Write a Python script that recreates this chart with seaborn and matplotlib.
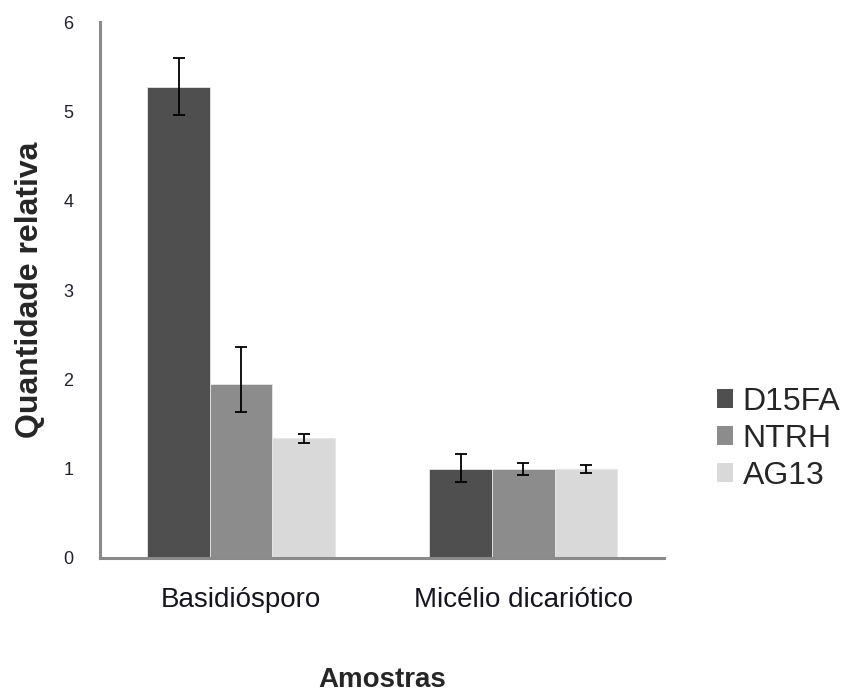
import matplotlib
matplotlib.use("Agg")
import matplotlib.pyplot as plt
from matplotlib.patches import Patch
import numpy as np
import pandas as pd
import seaborn as sns

# Expression data
amostras = ["Basidiósporo", "Micélio dicariótico"]
linhagens = ["D15FA", "NTRH", "AG13"]
d15fa = [5.27, 1.00]
ntrh = [1.95, 1.00]
ag13 = [1.34, 1.00]
# lower / upper error bar limits
d15fa_lo = [4.96, 0.85]
d15fa_hi = [5.60, 1.16]
ntrh_lo = [1.63, 0.93]
ntrh_hi = [2.36, 1.06]
ag13_lo = [1.29, 0.95]
ag13_hi = [1.39, 1.04]
yticks = [0, 1, 2, 3, 4, 5, 6]

cores = ["#4f4f4f", "#8c8c8c", "#d9d9d9"]

valores = {"D15FA": d15fa, "NTRH": ntrh, "AG13": ag13}
lows = {"D15FA": d15fa_lo, "NTRH": ntrh_lo, "AG13": ag13_lo}
highs = {"D15FA": d15fa_hi, "NTRH": ntrh_hi, "AG13": ag13_hi}

rows = []
for lin in linhagens:
    for i, am in enumerate(amostras):
        rows.append({"Amostra": am, "Linhagem": lin, "valor": valores[lin][i],
                     "lo": lows[lin][i], "hi": highs[lin][i]})
df = pd.DataFrame(rows)

sns.set_style("white")
plt.rcParams["font.family"] = ["Liberation Sans", "DejaVu Sans"]

fig = plt.figure(figsize=(8.5, 6.94), dpi=100)
ax = fig.add_axes([0.1176, 0.196, 0.664, 0.772])

sns.barplot(data=df, x="Amostra", y="valor", hue="Linhagem", order=amostras,
            hue_order=linhagens, palette=cores, width=0.665, gap=0,
            errorbar=None, edgecolor="#e6e6e6", linewidth=0.6, legend=False, ax=ax)

# error bars at the centre of each bar
for lin, container in zip(linhagens, ax.containers):
    sub = df[df["Linhagem"] == lin].set_index("Amostra").loc[amostras]
    xs = [p.get_x() + p.get_width() / 2 for p in container.patches]
    yerr = np.array([sub["valor"] - sub["lo"], sub["hi"] - sub["valor"]])
    ax.errorbar(xs, sub["valor"], yerr=yerr, fmt="none", ecolor="black",
                elinewidth=1.3, capsize=4.5, capthick=1.3, zorder=5)

ax.set_xlim(-0.5, 1.5)
ax.set_ylim(0, 6)
ax.set_yticks(yticks)
ax.set_yticklabels([str(t) for t in yticks], fontsize=13, color="#22222e")
ax.tick_params(axis="both", length=0)
ax.tick_params(axis="y", pad=19)
ax.tick_params(axis="x", pad=21)
for lab in ax.get_xticklabels():
    lab.set_fontsize(20)
    lab.set_color("#15151f")

for side in ["top", "right"]:
    ax.spines[side].set_visible(False)
for side in ["left", "bottom"]:
    ax.spines[side].set_color("#8a8a8a")
    ax.spines[side].set_linewidth(2.2)

ax.set_xlabel("Amostras", fontsize=20, fontweight="bold", labelpad=39)
ax.set_ylabel("Quantidade relativa", fontsize=23, fontweight="bold", labelpad=13)

handles = [Patch(facecolor=c, edgecolor="none") for c in cores]
fig.legend(handles, linhagens, loc="center left", bbox_to_anchor=(0.843, 0.368),
           frameon=False, fontsize=23, handlelength=0.52, handleheight=0.52,
           handletextpad=0.3, labelspacing=0.22, borderpad=0, borderaxespad=0)

fig.savefig("out.png", dpi=100)
